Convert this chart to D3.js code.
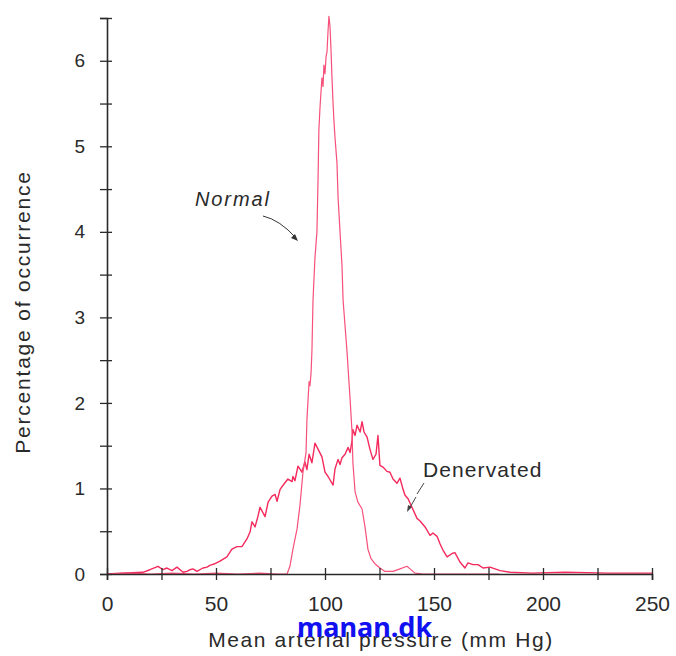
<!DOCTYPE html>
<html>
<head>
<meta charset="utf-8">
<script src="https://cdn.jsdelivr.net/npm/d3@7"></script>
<style>
  html, body { margin: 0; padding: 0; background: #ffffff; }
  svg { display: block; }
</style>
</head>
<body>
<svg id="chart" width="676" height="656"></svg>
<script>
// ---- data ----
const normalPressure = [0, 10, 20, 30, 40, 50, 60, 70, 78, 82.6, 83.9, 85.3, 87.2, 88.5, 89.9, 91.3, 91.7, 92.7, 93.1, 93.6, 94.0, 94.5, 95.4, 96.3, 96.8, 97.2, 97.7, 98.6, 99.1, 99.5, 100.0, 100.5, 100.9, 101.4, 101.8, 102.3, 102.8, 103.2, 103.7, 104.1, 104.6, 105.5, 106.0, 106.9, 107.8, 108.3, 109.2, 110.1, 110.6, 111.5, 112.4, 112.8, 113.8, 115.1, 117.0, 118.3, 119.7, 121.1, 122.9, 125.2, 127.5, 131.2, 134.4, 137.6, 139.0, 141.3, 145, 160, 180];
const normalPercent  = [0, 0.01, 0.0, 0.01, 0.0, 0.01, 0.0, 0.01, 0.0, 0.0, 0.09, 0.29, 0.53, 0.8, 1.19, 1.42, 1.8, 2.25, 2.2, 2.35, 2.6, 3.2, 3.7, 4.0, 4.6, 5.2, 5.45, 5.8, 5.7, 5.95, 5.85, 6.05, 6.1, 6.35, 6.52, 6.4, 6.1, 5.8, 5.5, 5.3, 5.1, 4.8, 4.4, 4.0, 3.6, 3.2, 2.9, 2.6, 2.4, 2.05, 1.66, 1.3, 0.96, 0.84, 0.76, 0.56, 0.29, 0.18, 0.12, 0.07, 0.03, 0.03, 0.06, 0.09, 0.06, 0.01, 0.0, 0.0, 0.0];

const denervPressure = [0, 6, 16.5, 19.7, 23.4, 25.7, 27.5, 29.8, 32.1, 34.9, 36.7, 38.1, 39.4, 41.3, 44.0, 45.9, 47.2, 49.5, 51.8, 55.0, 57.3, 59.6, 61.9, 64.2, 65.6, 66.5, 67.9, 69.3, 70.2, 72.5, 73.9, 75.7, 77.1, 78.0, 79.4, 81.7, 83.0, 84.9, 85.3, 86.2, 87.6, 89.4, 90.8, 91.7, 92.7, 94.0, 95.4, 96.8, 98.6, 100.0, 101.4, 103.7, 104.6, 106.0, 106.9, 107.8, 109.2, 110.6, 111.5, 112.4, 112.8, 113.8, 114.7, 116.1, 117.0, 117.9, 119.3, 120.6, 122.0, 123.4, 124.3, 125.2, 126.6, 128.4, 129.8, 131.2, 133.0, 134.4, 135.8, 136.7, 138.1, 139.9, 142.2, 143.6, 145.9, 148.2, 149.5, 151.4, 152.8, 154.1, 156.0, 158.3, 159.6, 161.9, 164.2, 165.6, 167.9, 170.2, 172.5, 175.7, 178.0, 180.3, 185, 195, 210, 230, 250];
const denervPercent  = [0, 0.01, 0.02, 0.05, 0.09, 0.05, 0.07, 0.04, 0.08, 0.02, 0.03, 0.05, 0.06, 0.03, 0.07, 0.08, 0.1, 0.12, 0.15, 0.2, 0.29, 0.32, 0.32, 0.41, 0.49, 0.61, 0.55, 0.68, 0.78, 0.67, 0.84, 0.91, 0.93, 0.85, 0.99, 1.07, 1.11, 1.08, 1.14, 1.09, 1.26, 1.19, 1.31, 1.22, 1.4, 1.3, 1.53, 1.46, 1.37, 1.19, 1.14, 1.04, 1.23, 1.34, 1.28, 1.36, 1.4, 1.48, 1.42, 1.56, 1.69, 1.62, 1.74, 1.66, 1.78, 1.66, 1.6, 1.46, 1.34, 1.4, 1.62, 1.27, 1.25, 1.2, 1.19, 1.11, 1.06, 1.12, 0.99, 0.92, 0.88, 0.78, 0.65, 0.62, 0.55, 0.45, 0.48, 0.44, 0.35, 0.28, 0.2, 0.24, 0.25, 0.14, 0.07, 0.13, 0.11, 0.11, 0.07, 0.08, 0.06, 0.04, 0.02, 0.01, 0.02, 0.01, 0.01];

const xTicks = [0, 25, 50, 75, 100, 125, 150, 175, 200, 225, 250];
const xTickLabels = ["0", "", "50", "", "100", "", "150", "", "200", "", "250"];
const yTicks = [0, 0.5, 1, 1.5, 2, 2.5, 3, 3.5, 4, 4.5, 5, 5.5, 6, 6.5];
const yTickLabels = ["0", "", "1", "", "2", "", "3", "", "4", "", "5", "", "6", ""];

const xTitle = "Mean arterial pressure (mm Hg)";
const yTitle = "Percentage of occurrence";
const normalLabel = "Normal";
const denervLabel = "Denervated";
const watermark = "manan.dk";

// ---- drawing ----
const svg = d3.select("#chart");
const x = d3.scaleLinear().domain([0, 250]).range([107, 652]);
const y = d3.scaleLinear().domain([0, 6.5]).range([574, 18]);

const axisColor = "#2a2a2a";
const lineColor = "#f42a5c";
const font = "'Liberation Sans', Arial, Helvetica, sans-serif";

// curves
const line = d3.line().x(d => x(d[0])).y(d => y(d[1]));
const normalData = normalPressure.map((p, i) => [p, normalPercent[i]]);
const denervData = denervPressure.map((p, i) => [p, denervPercent[i]]);

svg.append("path").datum(denervData)
  .attr("d", line).attr("fill", "none")
  .attr("stroke", lineColor).attr("stroke-width", 1.4)
  .attr("stroke-linejoin", "round");
svg.append("path").datum(normalData)
  .attr("d", line).attr("fill", "none")
  .attr("stroke", "#f7507a").attr("stroke-width", 1.2)
  .attr("stroke-linejoin", "round");

// y axis
const yAxis = d3.axisLeft(y).tickValues(yTicks)
  .tickFormat((d, i) => yTickLabels[i]).tickSizeOuter(0).tickSize(7).tickPadding(15);
const gy = svg.append("g").attr("transform", `translate(${x(0)},0)`).call(yAxis);
gy.select(".domain").attr("stroke", axisColor).attr("stroke-width", 1.6);
gy.selectAll(".tick line").attr("x1", 5).attr("x2", -7).attr("stroke", axisColor).attr("stroke-width", 1.3);
gy.selectAll(".tick text").attr("font-family", font).attr("font-size", 19).attr("fill", "#2a2a2a");

// x axis
const xAxis = d3.axisBottom(x).tickValues(xTicks)
  .tickFormat((d, i) => xTickLabels[i]).tickSizeOuter(0).tickSize(6).tickPadding(16);
const gx = svg.append("g").attr("transform", `translate(0,${y(0)})`).call(xAxis);
gx.select(".domain").attr("stroke", axisColor).attr("stroke-width", 1.6);
gx.selectAll(".tick line").attr("y1", -6).attr("y2", 6).attr("stroke", axisColor).attr("stroke-width", 1.3);
gx.selectAll(".tick text").attr("font-family", font).attr("font-size", 21).attr("fill", "#2a2a2a");

// axis titles
svg.append("text").text(xTitle)
  .attr("x", 381).attr("y", 647).attr("text-anchor", "middle")
  .attr("font-family", font).attr("font-size", 21).attr("letter-spacing", 1.6)
  .attr("fill", "#2a2a2a");
svg.append("text").text(yTitle)
  .attr("transform", "translate(30,312) rotate(-90)").attr("text-anchor", "middle")
  .attr("font-family", font).attr("font-size", 21).attr("letter-spacing", 1.8)
  .attr("fill", "#2a2a2a");

// annotations
svg.append("text").text(normalLabel)
  .attr("x", 195).attr("y", 206)
  .attr("font-family", font).attr("font-size", 20).attr("font-style", "italic")
  .attr("letter-spacing", 1.9).attr("fill", "#2a2a2a");
svg.append("path")
  .attr("d", "M263,216 Q280,220 296,238")
  .attr("fill", "none").attr("stroke", "#333").attr("stroke-width", 1);
svg.append("path")
  .attr("d", "M298,241 L291,238 L295,234 Z").attr("fill", "#333");

svg.append("text").text(denervLabel)
  .attr("x", 423).attr("y", 477)
  .attr("font-family", font).attr("font-size", 21).attr("letter-spacing", 1.1)
  .attr("fill", "#2a2a2a");
svg.append("path")
  .attr("d", "M424,483 L417,494 M416,497 L409,509")
  .attr("fill", "none").attr("stroke", "#444").attr("stroke-width", 1);
svg.append("path")
  .attr("d", "M407,512 L408,505 L412,507 Z").attr("fill", "#444");

// watermark
svg.append("text").text(watermark)
  .attr("x", 297).attr("y", 637)
  .attr("font-family", "'Noto Sans', 'DejaVu Sans', sans-serif")
  .attr("font-size", 27).attr("font-weight", "bold")
  .attr("fill", "#1010f0");
</script>
</body>
</html>
